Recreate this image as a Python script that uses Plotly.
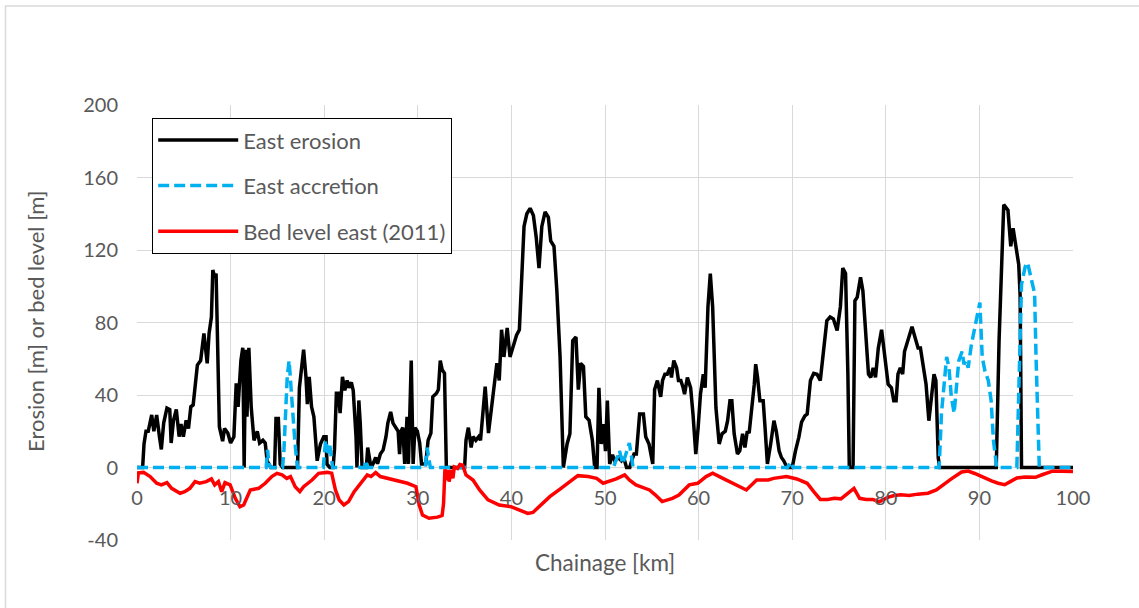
import plotly.graph_objects as go

# ---------------- data ----------------
erosion_km = [0, 0.6, 0.75, 0.96, 1.2, 1.57, 1.8, 2.1, 2.4, 2.6, 2.85, 3.2, 3.5, 3.65, 3.9, 4.2, 4.5, 4.7, 4.95,
              5.25, 5.5, 5.75, 6.0, 6.2, 6.45, 6.8, 7.15, 7.5, 7.7, 7.95, 8.1, 8.3, 8.45, 8.8, 9.15, 9.35, 9.7,
              10.0, 10.35, 10.6, 10.8, 11.1, 11.3, 11.45, 11.6, 11.75, 11.95, 12.2, 12.5, 12.85, 13.1, 13.45,
              13.7, 13.9, 14.3, 14.7, 14.85, 15.1, 15.3, 15.55, 17.15, 17.35, 17.6, 17.8, 18.05, 18.2, 18.4,
              18.65, 18.9, 19.25, 19.6, 19.95, 20.2, 20.3, 20.6, 20.95, 21.1, 21.3, 21.5, 21.7, 21.95, 22.2,
              22.45, 22.65, 22.9, 23.1, 23.4, 23.5, 23.7, 23.85, 24.05, 24.5, 24.65, 24.85, 25.0, 25.2, 25.5,
              25.7, 26.0, 26.3, 26.6, 26.8, 27.1, 27.35, 27.6, 27.9, 28.05, 28.2, 28.4, 28.6, 28.85, 29.0,
              29.15, 29.3, 29.5, 29.7, 29.95, 30.2, 30.4, 30.85, 31.1, 31.4, 31.6, 32.0, 32.2, 32.4, 32.6,
              32.85, 33.05, 35.0, 35.15, 35.4, 35.7, 35.9, 36.2, 36.5, 36.7, 36.95, 37.2, 37.55, 37.9, 38.45,
              38.7, 38.95, 39.2, 39.55, 39.85, 40.2, 40.55, 40.85, 41.1, 41.35, 41.65, 42.0, 42.35, 42.65,
              42.95, 43.25, 43.6, 43.95, 44.2, 44.55, 44.85, 45.2, 45.55, 45.75, 45.95, 46.25, 46.55, 46.9,
              47.15, 47.4, 47.7, 47.95, 48.3, 48.65, 48.9, 49.15, 49.35, 49.6, 49.85, 50.05, 50.25, 50.5,
              50.8, 51.05, 51.4, 51.75, 52.0, 52.3, 52.65, 52.85, 53.1, 53.35, 53.7, 54.1, 54.35, 54.7, 55.1,
              55.3, 55.6, 55.95, 56.15, 56.4, 56.65, 56.95, 57.1, 57.35, 57.65, 57.85, 58.1, 58.35, 58.5,
              58.8, 59.15, 59.4, 59.7, 59.95, 60.2, 60.5, 60.7, 61.0, 61.25, 61.5, 61.85, 62.2, 62.5, 62.85,
              63.1, 63.35, 63.55, 63.8, 64.15, 64.4, 64.7, 64.95, 65.2, 65.4, 65.7, 65.95, 66.1, 66.3, 66.55,
              66.9, 67.1, 67.35, 67.7, 68.05, 68.3, 68.6, 68.85, 69.1, 69.45, 70.0, 70.35, 70.7, 71.0, 71.35,
              71.6, 71.95, 72.3, 72.65, 73.0, 73.35, 73.7, 74.05, 74.4, 74.8, 75.15, 75.4, 75.7, 75.95, 76.1,
              76.5, 76.7, 76.95, 77.3, 77.55, 77.85, 78.15, 78.4, 78.65, 78.9, 79.2, 79.55, 79.9, 80.25, 80.6,
              80.85, 81.1, 81.3, 81.55, 81.8, 82.0, 82.4, 82.8, 83.15, 83.45, 83.7, 84.05, 84.3, 84.6, 84.9,
              85.15, 85.35, 85.6, 85.75, 91.8, 92.1, 92.3, 92.6, 93.05, 93.35, 93.6, 94.0, 94.2, 94.35, 94.5,
              100]
erosion_m = [0, 0, 13, 20, 20, 29, 20, 29, 17, 10, 24.5, 32.8, 32, 13.5, 26, 32, 17, 24, 17,
             26, 21.5, 33.5, 34.5, 46.5, 56.5, 59, 74, 57.5, 74, 83, 109, 105, 107, 22.5, 14.5, 21.5, 19,
             13.5, 17, 46.5, 33.5, 59, 66, 0, 65, 28, 66, 33.5, 15, 20, 13.5, 15,
             13.5, 3.7, 0, 0, 27, 27, 1.8, 0, 0, 44, 55, 65, 50, 35, 50,
             33.5, 28, 3.7, 13, 17, 17, 1.8, 0, 0, 10, 41, 41, 30, 50, 42.5,
             48, 44, 47, 42.5, 17, 0, 37, 24.5, 0, 0, 11, 5.5, 0, 1.8, 5.5,
             2, 7.4, 9.7, 17, 24.5, 30.7, 24.5, 22.5, 20, 7.4, 20, 22, 2, 28, 2,
             30, 59, 2, 22, 20, 13.5, 2, 2, 15, 19, 39, 41, 43, 59, 54,
             52, 0, 0, 15, 22, 11, 17, 15, 17, 15, 31.6, 44.6, 19, 34, 57.6,
             48, 76, 61, 77, 61, 67, 73, 76, 101.7, 133, 140, 143, 139, 127,
             110, 133, 141, 138, 125, 122, 98, 61, 0, 7, 13, 18.6, 70, 72,
             43, 57.5, 55.7, 28, 26, 15, 0, 0, 44, 13, 24, 9, 37, 2,
             7, 3.7, 5.5, 3.7, 5.5, 0, 0, 3.7, 7.4, 7.4, 29.5, 29.5, 17, 13, 2,
             43, 48, 39, 48, 51.5, 51.5, 55, 49.7, 59, 55, 48, 48, 44, 40.5,
             49.7, 44, 29.5, 7.4, 22, 40.5, 51.5, 44, 88.7, 107, 88.7, 33, 13, 18.6, 20,
             25.8, 36.8, 36.8, 18.6, 7.4, 9.2, 18.6, 11, 20, 19, 33, 46, 57, 49.7, 36.8,
             36.8, 22, 2, 13, 25.8, 20, 9.2, 5.5, 3.7, 0, 0, 9.2, 16.5, 25, 28.5,
             29.5, 48, 52, 51.5, 48, 66, 81, 83, 82, 75.6, 88.7, 110, 107, 51.5, 0,
             0, 92, 94, 105, 97.5, 72, 51.5, 49.7, 55, 49.7, 66, 76, 62.5, 46, 44,
             36.8, 36.8, 51.5, 55, 51.5, 64, 71.3, 77.7, 71.3, 66, 66, 55, 46, 25.8, 42,
             51.5, 48, 5.5, 0, 0, 70, 98, 145, 142, 122, 132, 120, 112, 95, 0,
             0]

accretion_km = [0, 13.8, 13.95, 14.1, 14.3, 15.55, 15.7, 15.9, 16.05, 16.25, 16.4, 16.6, 16.8, 16.95, 17.15,
                19.9, 20.15, 20.4, 20.6, 20.9, 24.3, 24.45, 24.6, 30.8, 31.0, 31.2, 31.35,
                50.9, 51.2, 51.55, 51.9, 52.3, 52.6, 52.85, 53.0, 69.5, 69.8, 70.1,
                85.7, 85.95, 86.3, 86.5, 86.75, 87.0, 87.3, 87.55, 87.8, 88.15, 88.35, 88.6, 88.8,
                89.15, 89.5, 89.8, 90.05, 90.3, 90.6, 90.95, 91.25, 91.5, 91.85,
                94.0, 94.25, 94.5, 94.9, 95.15, 95.5, 95.9, 96.05, 96.25, 96.4, 100]
accretion_m = [0, 0, 9.7, 2, 0, 0, 9.7, 37, 50, 59, 46.5, 32, 19, 9.7, 0,
               0, 15, 8, 12, 0, 0, 4, 0, 0, 11, 4, 0,
               0, 3.7, 9.2, 2, 9, 13.5, 5.5, 0, 0, 3, 0,
               0, 30, 51.5, 61, 55, 39, 30, 46, 59, 64, 57, 59, 55,
               68, 77.5, 85, 91, 61, 53, 48, 37, 15, 0,
               0, 51.5, 101, 111, 113, 105, 96, 61, 22.5, 0, 0]

bed_km = [0, 0.15, 0.7, 1.4, 2.1, 2.6, 3.2, 3.7, 4.6, 5.1, 5.65, 6.2, 6.7, 7.4, 7.95, 8.3, 8.7, 9.05, 9.4,
          9.95, 10.5, 11.0, 11.4, 12.1, 13.0, 13.7, 14.4, 14.95, 15.5, 16.0, 16.4, 16.9, 17.4, 17.8, 18.7,
          19.4, 20.3, 20.8, 21.2, 21.6, 22.1, 22.6, 23.2, 23.9, 24.6, 25.0, 25.5, 26.0, 27.1, 27.8, 28.9,
          29.8, 30.15, 30.5, 31.2, 32.1, 32.6, 32.75, 32.9, 33.05, 33.2, 33.35, 33.55, 33.75, 33.9, 34.25,
          34.5, 34.8, 35.15, 35.9, 36.6, 37.5, 38.7, 39.95, 40.85, 41.75, 42.3, 43.0, 44.1, 45.3, 46.2,
          47.1, 48.2, 49.1, 49.8, 50.5, 51.2, 52.1, 52.6, 53.3, 54.75, 55.4, 56.1, 57.2, 57.9, 59.0, 59.9,
          60.8, 61.5, 62.6, 63.7, 65.1, 66.2, 67.45, 68.0, 69.4, 70.5, 71.6, 72.3, 73.0, 73.8, 74.5, 75.2,
          76.0, 76.6, 77.2, 77.9, 78.6, 79.3, 80.2, 80.9, 81.6, 82.5, 83.4, 84.5, 85.4, 86.1, 87.0, 88.1,
          88.8, 89.5, 90.2, 91.3, 92.0, 92.7, 93.3, 94.0, 94.9, 96.0, 96.7, 97.8, 98.8, 100]
bed_m = [-8.7, -3, -2.7, -5, -8.7, -9.6, -8.3, -11.5, -14.2, -13.3, -11.5, -7.8, -8.7, -7.8, -6.3, -9.6, -7.8,
         -13.3, -8.3, -9.6, -17, -21.6, -20.7, -12.4, -11.5, -8.7, -5, -3.2, -4.1, -6, -5, -10.6, -13.3,
         -10.6, -6.9, -3.2, -2.7, -3.2, -12.4, -17.9, -20.7, -18.8, -13.3, -8.7, -4.1, -5, -2.8, -5, -6.4,
         -6.9, -8.7, -10.6, -20.7, -26.2, -28, -27.4, -26.5, -20, -1, -7, -1.5, -7.8, -1.4, -6, 0.3, -0.5,
         1.7, 1.3, -4.1, -6.9, -12.4, -17.9, -20.7, -21.6, -23.4, -25.3, -24.8, -21.6, -16.1, -11.5, -7.8,
         -4.5, -5, -6, -8.7, -7.4, -6.3, -4.1, -6.9, -9.6, -12.4, -15.2, -18.8, -17, -15.2, -9.6, -8.7,
         -5, -3.2, -6, -8.7, -12.4, -6.9, -6.9, -6, -5, -6.3, -8.7, -13.3, -17.6, -17.6, -17, -17.3,
         -14.2, -11.5, -17, -17.6, -17.6, -18.9, -16.5, -15.5, -15, -15.5, -14.7, -14.2, -12.4, -9.6, -6.3,
         -2.5, -2, -3.3, -5.1, -7.4, -8.7, -9.5, -7.8, -5.8, -5.2, -5.4, -4, -2, -2, -2.2]

x_ticks = [0, 10, 20, 30, 40, 50, 60, 70, 80, 90, 100]
y_ticks = [-40, 0, 40, 80, 120, 160, 200]
y_tick_text = ["-40", "0", "40", "80", "120", "160", "200"]

TEXT = "#595959"
GRID = "#d9d9d9"
FONT = "Lato"

fig = go.Figure()
fig.add_trace(go.Scatter(x=erosion_km, y=erosion_m, mode="lines", name="East erosion",
                         legendgroup="a", line=dict(color="black", width=3.5)))
fig.add_trace(go.Scatter(x=accretion_km, y=accretion_m, mode="lines", name="East accretion",
                         legendgroup="b", line=dict(color="#00b0f0", width=3.5, dash="11px,5px")))
fig.add_trace(go.Scatter(x=bed_km, y=bed_m, mode="lines", name="Bed level east (2011)",
                         legendgroup="c", line=dict(color="#ff0000", width=3.5)))

L, R, T, B = 137, 66, 105, 68
W, H = 1139, 608
pw, ph = W - L - R, H - T - B

fig.update_layout(
    width=W, height=H,
    margin=dict(l=L, r=R, t=T, b=B),
    paper_bgcolor="white", plot_bgcolor="white",
    font=dict(family=FONT, color=TEXT, size=20),
    showlegend=True,
    legend=dict(x=(152 - L) / pw, y=(H - B - 118) / ph, xanchor="left", yanchor="top",
                bgcolor="white", bordercolor="black", borderwidth=1.2,
                font=dict(size=22, color=TEXT, family=FONT), tracegroupgap=14,
                traceorder="grouped", itemwidth=80),
    xaxis=dict(range=[0, 100], tickvals=x_ticks, ticktext=[str(v) for v in x_ticks],
               showgrid=True, gridcolor=GRID, gridwidth=1, zeroline=False, showline=False,
               anchor="free", position=40 / 240, ticks="", ticklabelstandoff=16,
               tickfont=dict(size=20, color=TEXT, family=FONT)),
    yaxis=dict(range=[-40, 200], tickvals=y_ticks, ticktext=y_tick_text, showgrid=True,
               gridcolor=GRID, gridwidth=1, zeroline=False, showline=False, ticks="",
               ticklabelstandoff=18, tickfont=dict(size=20, color=TEXT, family=FONT)),
    annotations=[
        dict(text="Chainage [km]", xref="paper", yref="paper", x=0.5, y=-(562 - (H - B)) / ph,
             xanchor="center", yanchor="middle", showarrow=False,
             font=dict(size=22.5, color=TEXT, family=FONT)),
        dict(text="Erosion [m] or bed level [m]", xref="paper", yref="paper",
             x=(35 - L) / pw, y=(H - B - 322) / ph, xanchor="center", yanchor="middle",
             textangle=-90, showarrow=False, font=dict(size=22, color=TEXT, family=FONT)),
    ],
    shapes=[dict(type="rect", xref="paper", yref="paper", layer="below",
                 x0=(5.5 - L) / pw, x1=(W + 10 - L) / pw,
                 y0=-(H + 10 - (H - B)) / ph, y1=(H - B - 6) / ph,
                 line=dict(color=GRID, width=1.5), fillcolor="rgba(0,0,0,0)")],
)

fig.write_html("out.html")
